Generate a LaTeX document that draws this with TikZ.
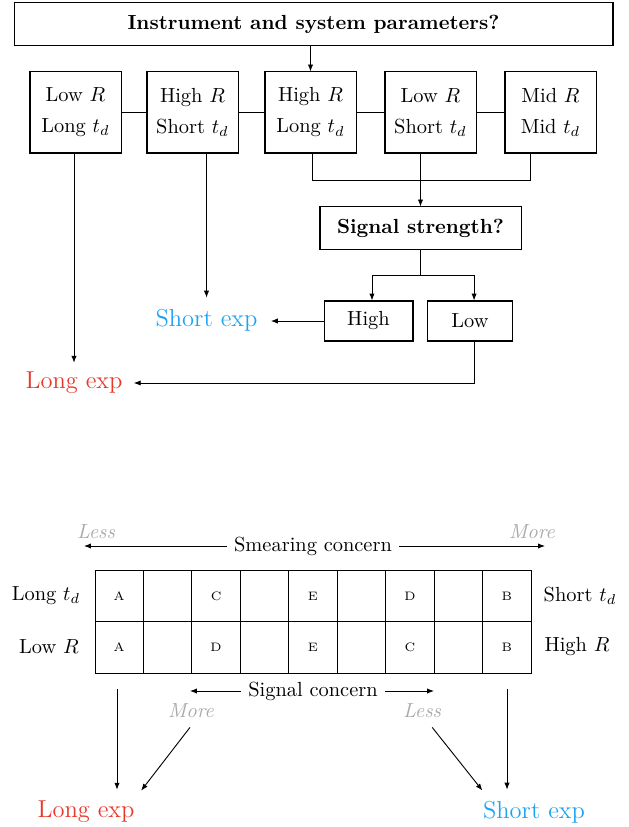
\documentclass[tikz,border=0pt]{standalone}
\usetikzlibrary{arrows.meta}
\definecolor{expred}{HTML}{E6392B}
\definecolor{expblue}{HTML}{1EA3F2}
\definecolor{softgray}{HTML}{AAAAAA}
\begin{document}
\begin{tikzpicture}[x=0.49pt,y=-0.49pt,
  >={Latex[length=3.4pt,width=2.6pt]},
  every path/.style={line width=0.45pt},
  box/.style={draw,line width=0.5pt,inner sep=2pt},
  pbox/.style={box,minimum width=44.6pt,minimum height=39.7pt,align=center},
  lbox/.style={box,minimum height=19.6pt},
  longc/.style={text=expred,font=\large},
  shortc/.style={text=expblue,font=\large},
  grayit/.style={text=softgray,font=\itshape},
  cell/.style={font=\fontsize{6}{7}\selectfont}]
\useasboundingbox (0,0) rectangle (629,827);

% ---------- top flowchart ----------
\node[box,minimum width=293.5pt,minimum height=20.6pt] (top) at (313.5,24) {\textbf{Instrument and system parameters?}};
\node[pbox] (b1) at (75.5,112.5) {Low $R$\\[3.2pt] Long $t_d$};
\node[pbox] (b2) at (192.5,112.5) {High $R$\\[3.2pt] Short $t_d$};
\node[pbox] (b3) at (310.5,112.5) {High $R$\\[3.2pt] Long $t_d$};
\node[pbox] (b4) at (430.5,112.5) {Low $R$\\[3.2pt] Short $t_d$};
\node[pbox] (b5) at (550.5,112.5) {Mid $R$\\[3.2pt] Mid $t_d$};
\draw (b1.east) -- (b2.west);
\draw (b2.east) -- (b3.west);
\draw (b3.east) -- (b4.west);
\draw (b4.east) -- (b5.west);
\draw[->] (top.south -| b3) -- (b3.north);

\node[box,minimum width=98.5pt,minimum height=20.6pt] (sig) at (420.5,228) {\textbf{Signal strength?}};
\node[lbox,minimum width=43.6pt] (hi) at (368.5,321) {High};
\node[lbox,minimum width=42.1pt] (lo) at (470,321) {Low};
\node[shortc] (se1) at (206.5,320) {Short exp};
\node[longc] (le1) at (74,383) {Long exp};

\draw[->,shorten >=1pt] (b1.south -| le1) -- (le1.north);
\draw[->,shorten >=2pt] (b2.south -| se1) -- (se1.north);
\coordinate (h3) at ([xshift=1.2pt]b3.south);
\coordinate (h5) at ([xshift=-9.6pt]b5.south);
\draw (h3) -- (h3 |- 0,180) -- (h5 |- 0,180) -- (h5);
\draw[->] (b4.south -| sig) -- (sig.north);

\coordinate (hin) at ([xshift=1.7pt]hi.north);
\coordinate (lon) at ([xshift=2pt]lo.north);
\draw (sig.south) -- (sig.south |- 0,275);
\draw (hin |- 0,275) -- (lon |- 0,275);
\draw[->] (hin |- 0,275) -- (hin);
\draw[->] (lon |- 0,275) -- (lon);
\draw[->,shorten >=3pt] (hi.west) -- (hi.west -| se1.east);
\coordinate (los) at ([xshift=2pt]lo.south);
\draw[->,shorten >=2pt] (los) |- (le1.east);

% ---------- bottom scale ----------
\node[grayit] (less1) at (96,532) {Less};
\node[grayit] (more1) at (532,532) {More};
\node (smear) at (313,546) {Smearing concern};
\coordinate (sl) at (84,546);
\coordinate (sr) at (545,546);
\draw[->] (smear.west) -- (sl);
\draw[->] (smear.east) -- (sr);

\draw (95,570) rectangle (531,673);
\draw (95,621) -- (531,621);
\foreach \i in {1,...,8} \draw ({95+\i*48.444},570) -- ({95+\i*48.444},673);
\foreach \l/\k in {A/0,C/2,E/4,D/6,B/8}
  \node[cell] (r1\k) at ({119.2+\k*48.444},596) {\l};
\foreach \l/\k in {A/0,D/2,E/4,C/6,B/8}
  \node[cell] (r2\k) at ({119.2+\k*48.444},647) {\l};

\node (ll1) at (46,596) {Long $t_d$};
\node (ll2) at (49,647) {Low $R$};
\node (rl1) at (580,596) {Short $t_d$};
\node (rl2) at (577,647) {High $R$};

\node (sc) at (313,691) {Signal concern};
\coordinate (scl) at (190,691);
\coordinate (scr) at (434,691);
\draw[->] (sc.west) -- (scl);
\draw[->] (sc.east) -- (scr);
\node[grayit] (more2) at (191,711) {More};
\node[grayit] (less2) at (422,711) {Less};

\node[longc] (le2) at (86,812) {Long exp};
\node[shortc] (se2) at (534,812) {Short exp};
\coordinate (g1) at (117,689);
\coordinate (g2) at (507,689);
\draw[->,shorten >=2pt] (g1) -- (g1 |- le2.north);
\draw[->,shorten >=2pt] (g2) -- (g2 |- se2.north);
\draw[->,shorten >=2pt] ([xshift=-0.5pt,yshift=-1pt]more2.south) -- ([xshift=-1.5pt]le2.north east);
\draw[->,shorten >=2pt] ([xshift=5pt,yshift=-1pt]less2.south) -- ([xshift=4.5pt]se2.north west);
\end{tikzpicture}
\end{document}
